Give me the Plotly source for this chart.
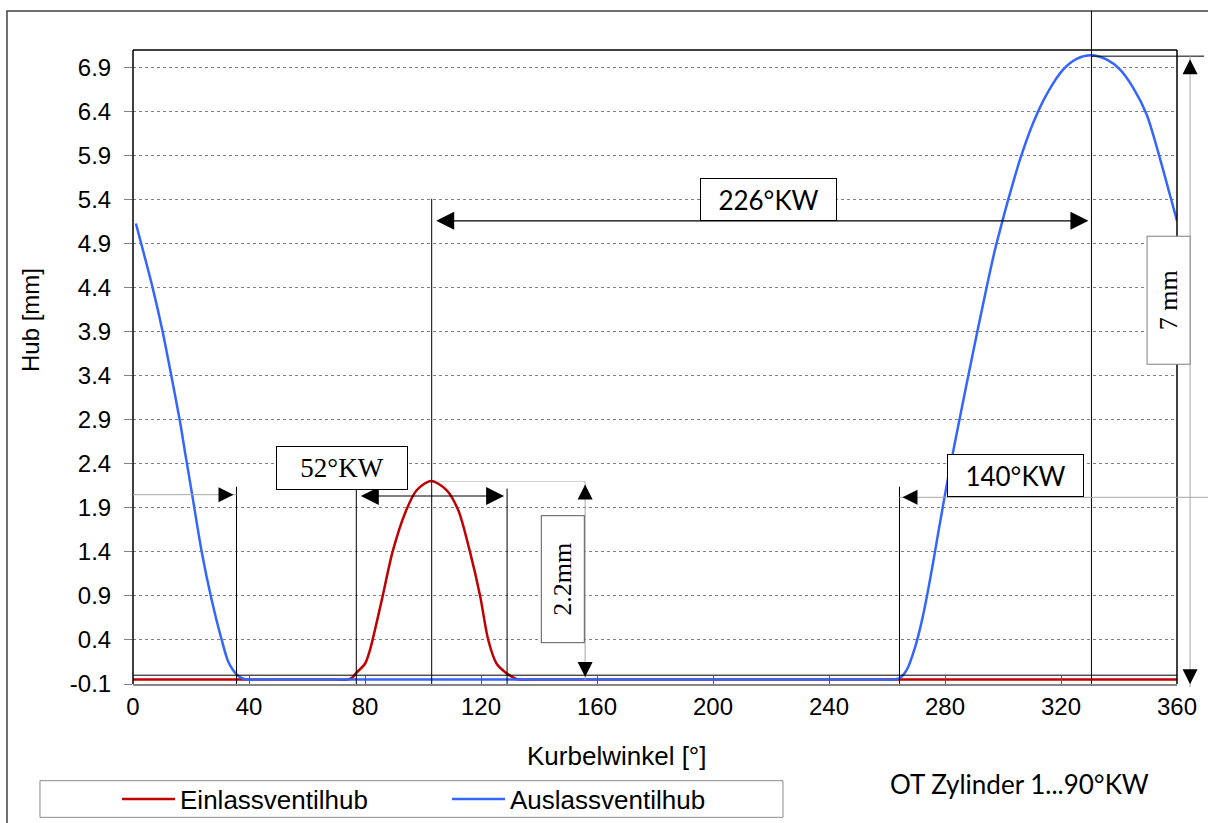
import plotly.graph_objects as go

# Crank angle [deg] and valve lift [mm] for the intake valve
intake_deg = [0, 40, 70, 74, 75.5, 77.1, 80, 81.7, 83.4, 86.1, 89.5, 93.8, 97.8, 102.8,
              108.2, 112.2, 116.2, 119.7, 122.5, 125.4, 128.9, 131.7, 133, 137, 200, 300, 360]
intake_lift = [-0.05, -0.05, -0.05, -0.05, -0.03, 0.03, 0.13, 0.285, 0.51, 0.90, 1.40, 1.84, 2.10, 2.205,
               2.10, 1.87, 1.40, 0.90, 0.40, 0.13, 0.02, -0.035, -0.05, -0.05, -0.05, -0.05, -0.05]

# Crank angle [deg] and valve lift [mm] for the exhaust valve (opens late, wraps past 360)
exhaust_deg = [1, 2.6, 6.7, 10.1, 13.1, 16.2, 18.2, 20.2, 23.7, 27.1, 30.6, 32.9, 35.7, 38, 40, 44,
               150, 258, 262, 264.3, 266.8, 269.7, 271.9, 273.9, 275.9, 278, 280.6, 284, 290, 297, 299.5,
               301.8, 305.9, 310.5, 315.1, 320.8, 325.4, 330.5, 335.8, 340.3, 344.9, 349.5,
               353.6, 357.6, 360]
exhaust_lift = [5.13, 4.93, 4.41, 3.92, 3.42, 2.88, 2.48, 2.09, 1.40, 0.86, 0.40, 0.15, 0.01, -0.04, -0.05, -0.05,
                -0.05, -0.05, -0.05, -0.035, 0.06, 0.32, 0.60, 0.92, 1.28, 1.68, 2.16, 2.74, 3.72, 4.80, 5.12,
                5.40, 5.86, 6.28, 6.60, 6.88, 7.00, 7.04, 6.99, 6.88, 6.67, 6.37,
                5.93, 5.45, 5.16]

x_ticks = [0, 40, 80, 120, 160, 200, 240, 280, 320, 360]
y_ticks = [-0.1, 0.4, 0.9, 1.4, 1.9, 2.4, 2.9, 3.4, 3.9, 4.4, 4.9, 5.4, 5.9, 6.4, 6.9]
y_ticklabels = ["-0.1", "0.4", "0.9", "1.4", "1.9", "2.4", "2.9", "3.4", "3.9", "4.4",
                "4.9", "5.4", "5.9", "6.4", "6.9"]

# Timing marks [deg] and lift marks [mm] used by the dimension lines
EX_CLOSE = 35.7
IN_OPEN = 77.0
IN_PEAK = 103.0
IN_CLOSE = 129.0
EX_OPEN = 264.3
EX_PEAK = 330.5
IN_MAX = 2.2
EX_MAX = 7.03

X_RANGE = [0, 360]
Y_RANGE = [-0.1, 7.1]

SANS = "Liberation Sans"
SERIF = "Liberation Serif"
CALI = "Lato"

fig = go.Figure()
fig.add_trace(go.Scatter(x=intake_deg, y=intake_lift, mode="lines", name="Einlassventilhub",
                         line=dict(color="#C00000", width=2.5, shape="spline", smoothing=0.8)))
fig.add_trace(go.Scatter(x=exhaust_deg, y=exhaust_lift, mode="lines", name="Auslassventilhub",
                         line=dict(color="#3366FF", width=2.5, shape="spline", smoothing=0.8)))


def xp(deg):
    """crank angle -> paper fraction along the x axis"""
    return (deg - X_RANGE[0]) / (X_RANGE[1] - X_RANGE[0])


def yp(mm):
    """lift -> paper fraction along the y axis"""
    return (mm - Y_RANGE[0]) / (Y_RANGE[1] - Y_RANGE[0])


shapes = []
BLACK = dict(color="black", width=1)
GREY = dict(color="#A6A6A6", width=1)

# outer chart frame
shapes.append(dict(type="rect", xref="paper", yref="paper", x0=-0.1207, x1=1.05, y0=-0.25, y1=1.0615,
                   line=dict(color="#404040", width=1.5), layer="below"))
# plot frame (left, top, right)
for x0, y0, x1, y1 in [(0, 0, 0, 1), (0, 1, 1, 1), (1, 0, 1, 1)]:
    shapes.append(dict(type="line", xref="paper", yref="paper", x0=x0, y0=y0, x1=x1, y1=y1,
                       line=dict(color="black", width=1.5), layer="above"))
# zero-lift line
shapes.append(dict(type="line", xref="paper", yref="y", x0=0, x1=1, y0=0, y1=0, line=BLACK, layer="above"))
# timing verticals
for deg, top in [(EX_CLOSE, 2.14), (IN_OPEN, 2.12), (IN_CLOSE, 2.12), (EX_OPEN, 2.14), (IN_PEAK, 5.41)]:
    shapes.append(dict(type="line", xref="x", yref="y", x0=deg, x1=deg, y0=-0.1, y1=top,
                       line=BLACK, layer="above"))
shapes.append(dict(type="line", xref="x", yref="paper", x0=EX_PEAK, x1=EX_PEAK, y0=0, y1=1.0615,
                   line=BLACK, layer="above"))
# exhaust max lift reference line
shapes.append(dict(type="line", xref="paper", yref="y", x0=xp(EX_PEAK), x1=1.026, y0=EX_MAX, y1=EX_MAX,
                   line=BLACK, layer="above"))
# helper lines
shapes.append(dict(type="line", xref="x", yref="y", x0=0, x1=EX_CLOSE, y0=2.05, y1=2.05,
                   line=GREY, layer="above"))
shapes.append(dict(type="line", xref="paper", yref="y", x0=xp(EX_OPEN), x1=1.04, y0=2.02, y1=2.02,
                   line=GREY, layer="above"))
shapes.append(dict(type="line", xref="x", yref="y", x0=104.7, x1=155.9, y0=IN_MAX, y1=IN_MAX,
                   line=dict(color="#D0D0D0", width=1), layer="above"))
shapes.append(dict(type="line", xref="x", yref="y", x0=155.9, x1=155.9, y0=IN_MAX, y1=-0.055,
                   line=GREY, layer="above"))
shapes.append(dict(type="line", xref="paper", yref="paper", x0=1.0125, x1=1.0125,
                   y0=-0.005, y1=yp(EX_MAX), line=GREY, layer="above"))
# legend frame
shapes.append(dict(type="rect", xref="paper", yref="paper", x0=-0.0891, x1=0.6226, y0=-0.2103, y1=-0.1525,
                   line=dict(color="#8C8C8C", width=1), fillcolor="white", layer="below"))

HEAD = dict(showarrow=True, arrowhead=2, arrowsize=3, arrowwidth=1, arrowcolor="black",
            standoff=3, text="")

annotations = []


def head(x, y, ax, ay, xref="x", yref="y"):
    annotations.append(dict(x=x, y=y, xref=xref, yref=yref, ax=ax, ay=ay,
                            axref="pixel", ayref="pixel", **HEAD))


# single arrow heads
head(EX_CLOSE, 2.05, -15, 0)
head(EX_OPEN, 2.02, 15, 0)
head(155.9, IN_MAX, 0, 15)
head(155.9, -0.055, 0, -15)
head(1.0125, EX_MAX, 0, 15, xref="paper")
head(1.0125, -0.005, 0, -15, xref="paper", yref="paper")

# double arrows for the angle spans
for a, b, y in [(IN_OPEN, IN_CLOSE, 2.035), (IN_PEAK, EX_PEAK, 5.16)]:
    annotations.append(dict(x=b, y=y, xref="x", yref="y", ax=a, ay=y, axref="x", ayref="y",
                            showarrow=True, arrowhead=2, startarrowhead=2, arrowside="end+start",
                            arrowsize=3, startarrowsize=3, arrowwidth=1.2, arrowcolor="black",
                            standoff=3, startstandoff=3, text=""))


def box(text, x, y, w, h, font, xref="x", yref="y", angle=0, border="black"):
    annotations.append(dict(text=text, x=x, y=y, xref=xref, yref=yref, showarrow=False,
                            width=w, height=h, textangle=angle, borderpad=0, borderwidth=1,
                            bordercolor=border, bgcolor="white", font=font,
                            xanchor="center", yanchor="middle", align="center", valign="middle"))


box("52°KW", 72.2, 2.355, 130, 42, dict(family=SERIF, size=27, color="black"))
box("226°KW", 219.2, 5.407, 135, 41, dict(family=CALI, size=26, color="black"))
box("140°KW", 304.3, 2.27, 135, 41, dict(family=CALI, size=26, color="black"))
box("2.2mm", 148.1, 1.096, 126, 42, dict(family=SERIF, size=26, color="black"),
    angle=-90, border="#595959")
box("7 mm", 0.992, 4.26, 127, 42, dict(family=SERIF, size=26, color="black"),
    xref="paper", angle=-90, border="#7F7F7F")

# axis titles and note
annotations.append(dict(text="Kurbelwinkel [°]", x=0.4636, y=-0.113, xref="paper", yref="paper",
                        showarrow=False, xanchor="center", yanchor="middle",
                        font=dict(family=SANS, size=26, color="black")))
annotations.append(dict(text="Hub [mm]", x=-0.0987, y=0.574, xref="paper", yref="paper",
                        showarrow=False, xanchor="center", yanchor="middle", textangle=-90,
                        font=dict(family=SANS, size=24, color="black")))
annotations.append(dict(text="OT Zylinder 1...90°KW", x=0.8496, y=-0.1577, xref="paper", yref="paper",
                        showarrow=False, xanchor="center", yanchor="middle",
                        font=dict(family=CALI, size=26, color="black")))

fig.update_layout(
    width=1208, height=823,
    margin=dict(l=133, r=31, t=50, b=139, autoexpand=False),
    paper_bgcolor="white", plot_bgcolor="white",
    font=dict(family=SANS, size=24, color="black"),
    shapes=shapes, annotations=annotations,
    showlegend=True,
    legend=dict(orientation="h", x=-0.0153, y=-0.1814, xanchor="left", yanchor="middle",
                bgcolor="rgba(0,0,0,0)", borderwidth=0, entrywidth=262, entrywidthmode="pixels",
                font=dict(family=SANS, size=26, color="black"), itemwidth=53),
    xaxis=dict(range=X_RANGE, tickvals=x_ticks, ticktext=[str(v) for v in x_ticks],
               ticks="inside", ticklen=8, tickcolor="#595959", showgrid=False, zeroline=False,
               showline=True, linecolor="#868686", linewidth=2,
               tickfont=dict(family=SANS, size=24, color="black")),
    yaxis=dict(range=Y_RANGE, tickvals=y_ticks, ticktext=y_ticklabels,
               ticks="outside", ticklen=8, tickcolor="#808080", showgrid=True, gridcolor="#808080",
               griddash="dot", gridwidth=1, zeroline=False, showline=False, ticklabelstandoff=8,
               tickfont=dict(family=SANS, size=24, color="black")),
)

fig.write_html("out.html")
